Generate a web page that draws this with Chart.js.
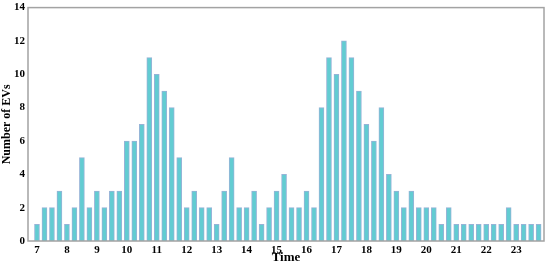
<!DOCTYPE html>
<html>
<head>
<meta charset="utf-8">
<script src="https://cdn.jsdelivr.net/npm/chart.js@4/dist/chart.umd.min.js"></script>
<style>
  html, body { margin: 0; padding: 0; background: #fff; }
  #wrap { width: 550px; height: 265px; position: relative; }
</style>
</head>
<body>
<div id="wrap"><canvas id="evChart"></canvas></div>
<script>
// EV counts per quarter hour, one row per hour (7:00 .. 23:45)
const hours = [7, 8, 9, 10, 11, 12, 13, 14, 15, 16, 17, 18, 19, 20, 21, 22, 23];
const quarters = [0, 0.25, 0.5, 0.75];
const evCounts = [
  [1, 2, 2, 3],
  [1, 2, 5, 2],
  [3, 2, 3, 3],
  [6, 6, 7, 11],
  [10, 9, 8, 5],
  [2, 3, 2, 2],
  [1, 3, 5, 2],
  [2, 3, 1, 2],
  [3, 4, 2, 2],
  [3, 2, 8, 11],
  [10, 12, 11, 9],
  [7, 6, 8, 4],
  [3, 2, 3, 2],
  [2, 2, 1, 2],
  [1, 1, 1, 1],
  [1, 1, 1, 2],
  [1, 1, 1, 1]
];
const yTicks = [0, 2, 4, 6, 8, 10, 12, 14];

const points = [];
hours.forEach((h, i) => {
  quarters.forEach((q, j) => {
    points.push({ x: h + q, y: evCounts[i][j] });
  });
});

const serif = "'Liberation Serif', 'Times New Roman', serif";

// gray frame round the plot area
const framePlugin = {
  id: 'frame',
  afterDraw(chart) {
    const { ctx, chartArea: a } = chart;
    ctx.save();
    ctx.strokeStyle = '#a3a3a3';
    ctx.lineWidth = 1.5;
    ctx.strokeRect(a.left, a.top, a.right - a.left, a.bottom - a.top);
    ctx.restore();
  }
};

new Chart(document.getElementById('evChart'), {
  type: 'bar',
  data: {
    datasets: [{
      data: points,
      backgroundColor: 'rgb(98, 204, 210)',
      borderColor: 'rgba(125, 160, 205, 0.8)',
      borderWidth: 1,
      barThickness: 5
    }]
  },
  options: {
    responsive: true,
    maintainAspectRatio: false,
    animation: false,
    layout: { padding: { left: 0, right: 6, top: 7, bottom: 0 } },
    plugins: {
      legend: { display: false },
      tooltip: { enabled: false }
    },
    scales: {
      x: {
        type: 'linear',
        min: 6.7,
        max: 23.93,
        offset: false,
        afterBuildTicks: scale => {
          scale.ticks = hours.map(h => ({ value: h }));
        },
        afterFit: scale => { scale.height = 24; },
        grid: { display: false, drawTicks: true, tickLength: 3, tickColor: '#888' },
        border: { display: false },
        ticks: {
          color: '#000',
          padding: 0,
          maxRotation: 0,
          font: { family: serif, size: 11, weight: 'bold' },
          callback: v => v
        },
        title: {
          display: true,
          text: 'Time',
          color: '#000',
          padding: 0,
          font: { family: serif, size: 13, weight: 'bold' }
        }
      },
      y: {
        min: 0,
        max: 14,
        afterBuildTicks: scale => {
          scale.ticks = yTicks.map(v => ({ value: v }));
        },
        afterFit: scale => { scale.width = 28; },
        grid: { display: false, drawTicks: true, tickLength: 2, tickColor: '#888' },
        border: { display: false },
        ticks: {
          color: '#000',
          padding: 1,
          font: { family: serif, size: 11, weight: 'bold' }
        },
        title: {
          display: true,
          text: 'Number of EVs',
          color: '#000',
          padding: 0,
          font: { family: serif, size: 12, weight: 'bold' }
        }
      }
    }
  },
  plugins: [framePlugin]
});
</script>
</body>
</html>
